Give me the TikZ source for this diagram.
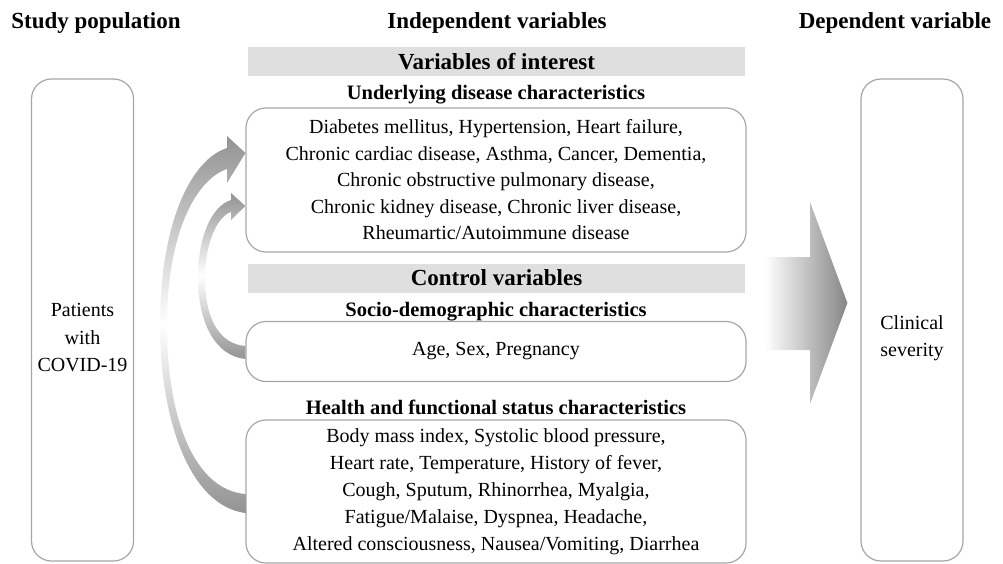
\documentclass[tikz,border=0pt]{standalone}
\usepackage{fontspec}
\setmainfont{Liberation Serif}
\usetikzlibrary{positioning,calc}

\tikzset{
    colhead/.style={font=\fontsize{23}{26}\selectfont\bfseries, anchor=base},
    bar/.style={fill=gray!25, minimum width=497pt, minimum height=29pt, inner sep=0pt,
        font=\fontsize{23}{26}\selectfont\bfseries},
    subhead/.style={font=\fontsize{20.5}{24}\selectfont\bfseries, anchor=base},
    varbox/.style={draw=gray!70, line width=1.2pt, rounded corners=20pt, minimum width=500pt,
        align=center, font=\fontsize{20}{26.5}\selectfont, inner sep=0pt},
    sidebox/.style={draw=gray!70, line width=1.2pt, rounded corners=20pt,
        minimum width=102pt, minimum height=482pt, inner sep=0pt},
    sidetext/.style={align=center, font=\fontsize{20}{27.5}\selectfont},
    curvearrow/.style={top color=gray!85, bottom color=gray!85, middle color=white, draw=none}
}

\begin{document}
\begin{tikzpicture}[x=1pt,y=-1pt]
    \useasboundingbox (0,0) rectangle (1003,564);

    % Column headings
    \node[colhead] (study) at (96,29) {Study population};
    \node[colhead] (indep) at (497,29) {Independent variables};
    \node[colhead] (dep) at (895,29) {Dependent variable};

    % Study population and outcome
    \node[sidebox] (pop) at (82.5,320) {};
    \node[sidetext] (poptext) at (82.5,338) {Patients\\with\\COVID-19};
    \node[sidebox] (sev) at (912,320) {};
    \node[sidetext] (sevtext) at (912,338) {Clinical\\severity};

    % Variables of interest
    \node[bar] (interest) at (496.5,62) {Variables of interest};
    \node[subhead] (under) at (496,100) {Underlying disease characteristics};
    \node[varbox, minimum height=144pt] (disease) at (496,180) {%
        Diabetes mellitus, Hypertension, Heart failure,\\
        Chronic cardiac disease, Asthma, Cancer, Dementia,\\
        Chronic obstructive pulmonary disease,\\
        Chronic kidney disease, Chronic liver disease,\\
        Rheumartic/Autoimmune disease};

    % Control variables
    \node[bar] (control) at (496.5,278) {Control variables};
    \node[subhead] (socio) at (496,316) {Socio-demographic characteristics};
    \node[varbox, minimum height=60pt] (demo) at (496,351.5) {Age, Sex, Pregnancy};
    \node[subhead] (hfs) at (496,414) {Health and functional status characteristics};
    \node[varbox, minimum height=143pt, font=\fontsize{20}{27}\selectfont] (health) at (496,491.5) {%
        Body mass index, Systolic blood pressure,\\
        Heart rate, Temperature, History of fever,\\
        Cough, Sputum, Rhinorrhea, Myalgia,\\
        Fatigue/Malaise, Dyspnea, Headache,\\
        Altered consciousness, Nausea/Vomiting, Diarrhea};

    % Curved arrows into the variables of interest
    \path[curvearrow] (health.west |- 0,513) .. controls (190,506) and (160,420) .. (160,325)
        .. controls (160,225) and (190,160) .. (227,148) -- (227,136) -- (disease.west |- 0,153)
        -- (227,183) -- (227,169) .. controls (195,180) and (167,235) .. (167,325)
        .. controls (167,420) and (195,490) .. (health.west |- 0,494) -- cycle;
    \path[curvearrow] (demo.west |- 0,359) .. controls (215,356) and (198,322) .. (198,278)
        .. controls (198,236) and (212,206) .. (231,200) -- (231,193) -- (disease.west |- 0,206)
        -- (231,220) -- (231,212) .. controls (218,216) and (205,242) .. (205,278)
        .. controls (205,320) and (220,344) .. (demo.west |- 0,346) -- cycle;

    % Big arrow to the outcome
    \path[left color=white, right color=gray!95] (765,257) -- (810,257) -- (810,202)
        -- ($(sev.west |- 0,303)+(-13,0)$) -- (810,404) -- (810,350) -- (765,350) -- cycle;
\end{tikzpicture}
\end{document}
